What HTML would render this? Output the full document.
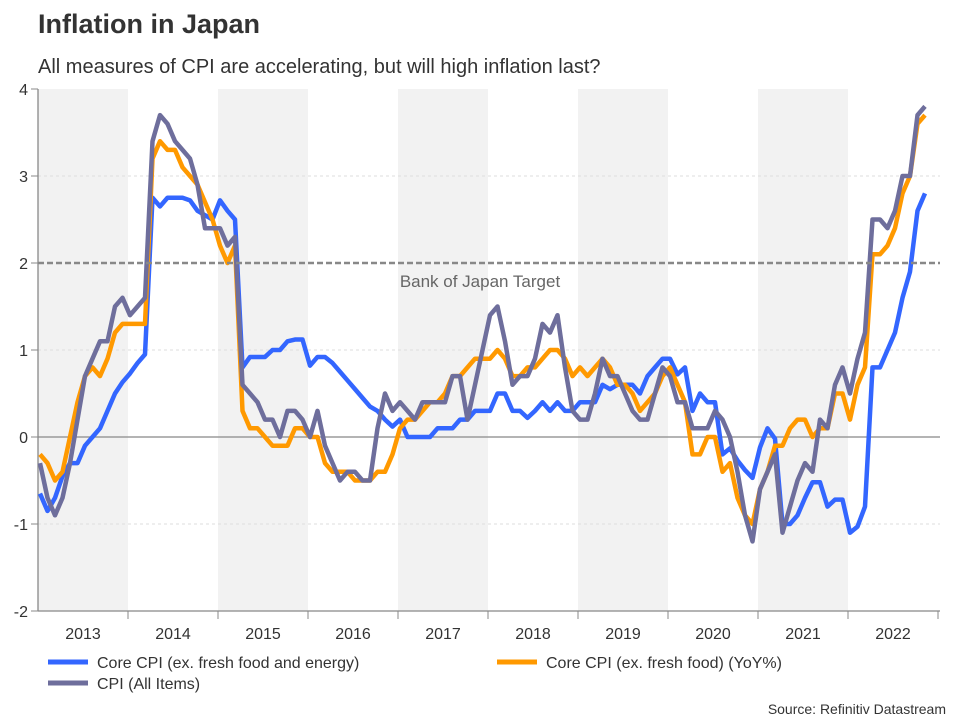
<!DOCTYPE html>
<html><head><meta charset="utf-8"><style>
body{margin:0;background:#fff;font-family:"Liberation Sans",Arial,sans-serif;}
svg text{font-family:"Liberation Sans",Arial,sans-serif;}
</style></head><body>
<svg id="c" width="960" height="720" viewBox="0 0 960 720">
<text x="38" y="33" font-size="27" font-weight="bold" fill="#333">Inflation in Japan</text>
<text x="38" y="73" font-size="20" fill="#333">All measures of CPI are accelerating, but will high inflation last?</text>
<g id="bands"></g><g id="grid"></g><g id="axes"></g><g id="series"></g>
<text x="480" y="287" font-size="17" fill="#666" text-anchor="middle">Bank of Japan Target</text>
<g>
<line x1="48" y1="662" x2="88" y2="662" stroke="#3366ff" stroke-width="5"/>
<text x="97" y="668" font-size="16" fill="#333">Core CPI (ex. fresh food and energy)</text>
<line x1="497" y1="662" x2="537" y2="662" stroke="#ff9900" stroke-width="5"/>
<text x="546" y="668" font-size="16" fill="#333">Core CPI (ex. fresh food) (YoY%)</text>
<line x1="48" y1="683" x2="88" y2="683" stroke="#6e6e9c" stroke-width="5"/>
<text x="97" y="689" font-size="16" fill="#333">CPI (All Items)</text>
</g>
<text x="946" y="714" font-size="14" fill="#333" text-anchor="end">Source: Refinitiv Datastream</text>
</svg>
<script>
const years=["2013","2014","2015","2016","2017","2018","2019","2020","2021","2022"];
const yTicks=[4,3,2,1,0,-1,-2];
const coreCore=[-0.65,-0.85,-0.7,-0.45,-0.3,-0.3,-0.1,0.0,0.1,0.3,0.5,0.63,
0.73,0.85,0.95,2.75,2.65,2.75,2.75,2.75,2.72,2.6,2.55,2.5,
2.72,2.6,2.5,0.8,0.92,0.92,0.92,1.0,1.0,1.1,1.12,1.12,
0.82,0.92,0.92,0.85,0.75,0.65,0.55,0.45,0.35,0.3,0.2,0.12,
0.2,0.0,0.0,0.0,0.0,0.1,0.1,0.1,0.2,0.2,0.3,0.3,
0.3,0.5,0.5,0.3,0.3,0.22,0.3,0.4,0.3,0.4,0.3,0.3,
0.4,0.4,0.4,0.6,0.55,0.6,0.6,0.6,0.5,0.7,0.8,0.9,
0.9,0.72,0.8,0.3,0.5,0.4,0.4,-0.2,-0.13,-0.27,-0.38,-0.47,
-0.12,0.1,-0.02,-1.0,-1.0,-0.9,-0.7,-0.52,-0.52,-0.8,-0.72,-0.72,
-1.1,-1.03,-0.8,0.8,0.8,1.0,1.2,1.6,1.9,2.6,2.8];
const coreCPI=[-0.2,-0.3,-0.5,-0.4,0.0,0.4,0.7,0.8,0.7,0.9,1.2,1.3,
1.3,1.3,1.3,3.2,3.4,3.3,3.3,3.1,3.0,2.9,2.7,2.5,
2.2,2.0,2.2,0.3,0.1,0.1,0.0,-0.1,-0.1,-0.1,0.1,0.1,
0.0,0.0,-0.3,-0.4,-0.4,-0.4,-0.5,-0.5,-0.5,-0.4,-0.4,-0.2,
0.1,0.2,0.2,0.3,0.4,0.4,0.5,0.7,0.7,0.8,0.9,0.9,
0.9,1.0,0.9,0.7,0.7,0.8,0.8,0.9,1.0,1.0,0.9,0.7,
0.8,0.7,0.8,0.9,0.8,0.6,0.6,0.5,0.3,0.4,0.5,0.7,
0.8,0.6,0.4,-0.2,-0.2,0.0,0.0,-0.4,-0.3,-0.7,-0.9,-1.0,
-0.6,-0.4,-0.1,-0.1,0.1,0.2,0.2,0.0,0.1,0.1,0.5,0.5,
0.2,0.6,0.8,2.1,2.1,2.2,2.4,2.8,3.0,3.6,3.7];
const cpiAll=[-0.3,-0.7,-0.9,-0.7,-0.3,0.2,0.7,0.9,1.1,1.1,1.5,1.6,
1.4,1.5,1.6,3.4,3.7,3.6,3.4,3.3,3.2,2.9,2.4,2.4,
2.4,2.2,2.3,0.6,0.5,0.4,0.2,0.2,0.0,0.3,0.3,0.2,
0.0,0.3,-0.1,-0.3,-0.5,-0.4,-0.4,-0.5,-0.5,0.1,0.5,0.3,
0.4,0.3,0.2,0.4,0.4,0.4,0.4,0.7,0.7,0.2,0.6,1.0,
1.4,1.5,1.1,0.6,0.7,0.7,0.9,1.3,1.2,1.4,0.8,0.3,
0.2,0.2,0.5,0.9,0.7,0.7,0.5,0.3,0.2,0.2,0.5,0.8,
0.7,0.4,0.4,0.1,0.1,0.1,0.3,0.2,0.0,-0.4,-0.9,-1.2,
-0.6,-0.4,-0.2,-1.1,-0.8,-0.5,-0.3,-0.4,0.2,0.1,0.6,0.8,
0.5,0.9,1.2,2.5,2.5,2.4,2.6,3.0,3.0,3.7,3.8];
const target=2;
const NS="http://www.w3.org/2000/svg";
const X0=38,X1=940,YTOP=89,YBOT=611,VMAX=4,VMIN=-2,MW=7.5,YW=90;
function xs(i){return X0+MW*i+2;}
function ys(v){return YTOP+(VMAX-v)/(VMAX-VMIN)*(YBOT-YTOP);}
function mk(p,t,a){const e=document.createElementNS(NS,t);for(const k in a)e.setAttribute(k,a[k]);p.appendChild(e);return e;}
const bands=document.getElementById('bands'),grid=document.getElementById('grid'),axes=document.getElementById('axes'),ser=document.getElementById('series');
years.forEach((y,k)=>{
 if(k%2===0){const r=mk(bands,'rect',{x:X0+YW*k,y:YTOP,width:YW,height:YBOT-YTOP,fill:'#f2f2f2'});
 
 }
 const t=mk(axes,'text',{x:X0+YW*k+YW/2,y:639,'font-size':16,fill:'#333','text-anchor':'middle'});t.textContent=y;
 
 
 const tk=mk(axes,'line',{x1:X0+YW*(k+1),y1:YBOT,x2:X0+YW*(k+1),y2:619,stroke:'#888','stroke-width':1});
 
 
});
yTicks.forEach(v=>{
 if(v!==0&&v!==target&&v!==VMAX&&v!==VMIN){const g=mk(grid,'line',{x1:X0,x2:X1,y1:ys(v),y2:ys(v),stroke:'#ddd','stroke-dasharray':'3,3','stroke-width':1});
 
 }
 const tk=mk(axes,'line',{x1:X0-7,x2:X0,y1:ys(v),y2:ys(v),stroke:'#888'});
 
 
 const t=mk(axes,'text',{x:X0-10,y:ys(v)+6,'font-size':16,fill:'#333','text-anchor':'end'});t.textContent=v;
 
 
});
const z=mk(grid,'line',{x1:X0,x2:X1,y1:ys(0),y2:ys(0),stroke:'#888','stroke-width':1.3});


const ya=mk(axes,'line',{x1:X0,x2:X0,y1:YTOP,y2:YBOT,stroke:'#888','stroke-width':1.3});


const xa=mk(axes,'line',{x1:X0,x2:X1,y1:YBOT,y2:YBOT,stroke:'#888','stroke-width':1.3});


function line(d,c,n){const p=mk(ser,'polyline',{points:d.map((v,i)=>xs(i)+','+ys(v)).join(' '),fill:'none',stroke:c,'stroke-width':4.5,'stroke-linejoin':'round'});
 
 }
line(coreCore,'#3366ff','core-core-cpi-line');
line(coreCPI,'#ff9900','core-cpi-line');
line(cpiAll,'#6e6e9c','cpi-all-items-line');
const tl=mk(ser,'line',{x1:X0,x2:X1,y1:ys(target),y2:ys(target),stroke:'#888','stroke-width':2.5,'stroke-dasharray':'6,3'});


</script>
</body></html>
